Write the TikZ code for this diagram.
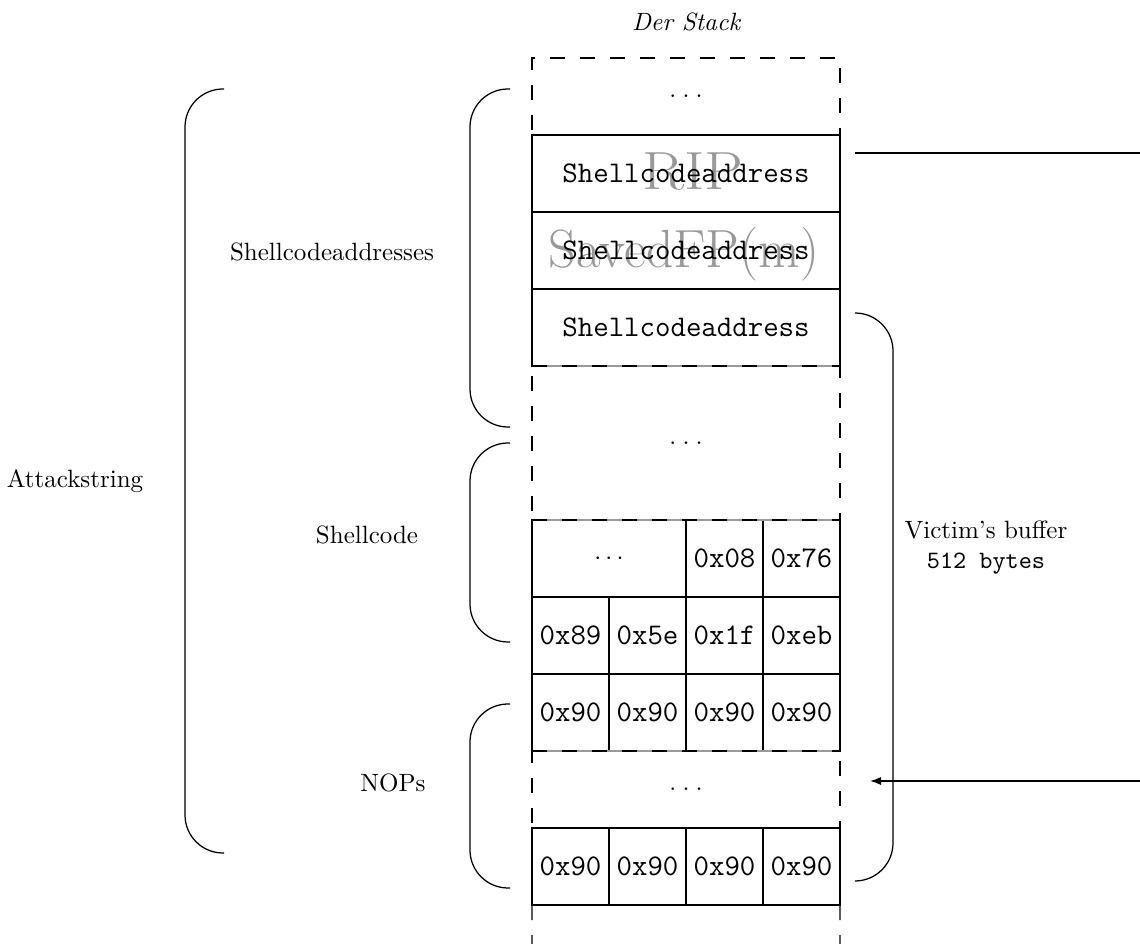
\documentclass[tikz,border=0pt]{standalone}
\usetikzlibrary{arrows.meta}
\newcommand{\spacedots}{.\kern2.5pt.\kern2.5pt.}
\begin{document}
\begin{tikzpicture}[x=0.4pt,y=-0.4pt,
  every node/.style={inner sep=0pt, outer sep=0pt},
  cell/.style={draw, line width=0.5pt, minimum width=30.8pt, minimum height=30.8pt, font=\large\ttfamily},
  widecell/.style={cell, minimum width=61.6pt},
  fullcell/.style={cell, minimum width=123.2pt},
  gapcell/.style={draw, line width=0.5pt, dash pattern=on 6pt off 6pt, minimum width=123.2pt, minimum height=30.8pt},
  gapline/.style={line width=0.5pt, dash pattern=on 6pt off 6pt},
  seam/.style={line width=0.5pt, black!40},
  bracepath/.style={line width=0.5pt, rounded corners=15.2pt},
  ghosttext/.style={font=\fontsize{21.5}{26}\selectfont, text=black!40, anchor=base},
  wire/.style={line width=0.5pt}]
\useasboundingbox (0,0) rectangle (1140,944);

% frame names written faintly behind the slots
\node[ghosttext, xscale=1.15] (ripT) at (693,190) {RIP};
\node[ghosttext] (fpT) at (684,268) {SavedFP(m)};

% unused / unknown parts of the stack
\node[gapcell] (top) at (686,96.5) {\spacedots};
\node[gapcell, minimum height=61.6pt] (mid) at (686,443) {\spacedots};
\node[gapcell] (nop) at (686,789.5) {\spacedots};

% overwritten return addresses
\node[fullcell] (s1) at (686,173.5) {Shellcodeaddress};
\node[fullcell] (s2) at (686,250.5) {Shellcodeaddress};
\node[fullcell] (s3) at (686,327.5) {Shellcodeaddress};

% shellcode bytes
\node[widecell, font=\normalsize] (a01) at (609,558.5) {$\cdots$};
\node[cell] (a2) at (724.5,558.5) {0x08};
\node[cell] (a3) at (801.5,558.5) {0x76};
\node[cell] (b0) at (570.5,635.5) {0x89};
\node[cell] (b1) at (647.5,635.5) {0x5e};
\node[cell] (b2) at (724.5,635.5) {0x1f};
\node[cell] (b3) at (801.5,635.5) {0xeb};

% NOP sled
\node[cell] (c0) at (570.5,712.5) {0x90};
\node[cell] (c1) at (647.5,712.5) {0x90};
\node[cell] (c2) at (724.5,712.5) {0x90};
\node[cell] (c3) at (801.5,712.5) {0x90};
\node[cell] (d0) at (570.5,866.5) {0x90};
\node[cell] (d1) at (647.5,866.5) {0x90};
\node[cell] (d2) at (724.5,866.5) {0x90};
\node[cell] (d3) at (801.5,866.5) {0x90};

% seams between filled slots and open stack regions
\draw[seam] (s3.south west) -- (s3.south east);
\draw[gapline] (s3.south west) -- (s3.south east);
\draw[seam] (a01.north west) -- (a3.north east);
\draw[gapline] (a01.north west) -- (a3.north east);
\draw[seam] (c0.south west) -- (c3.south east);
\draw[gapline] (c0.south west) -- (c3.south east);

% stack continues below
\coordinate (botL) at (532,944);
\coordinate (botR) at (840,944);
\draw[gapline] (d0.south west) -- (botL);
\draw[gapline] (d3.south east) -- (botR);

% labels
\node[font=\itshape] (title) at (686,22) {Der Stack};
\node (attack) at (75,481) {Attackstring};
\node (sca) at (332,252) {Shellcodeaddresses};
\node (sc) at (367,535) {Shellcode};
\node (nops) at (393,783) {NOPs};
\node[align=center] (victim) at (986,548) {Victim's buffer\\\texttt{512 bytes}};

% brackets
\draw[bracepath] (224,89) -- (185,89) -- (185,853) -- (224,853);
\draw[bracepath] (510,89) -- (470,89) -- (470,427) -- (510,427);
\draw[bracepath] (510,443) -- (470,443) -- (470,642) -- (510,642);
\draw[bracepath] (510,704) -- (470,704) -- (470,888) -- (510,888);
\draw[bracepath] (855,313) -- (893,313) -- (893,881) -- (855,881);

% return jump into the sled
\coordinate (retA) at (855,153);
\coordinate (retB) at (1140,153);
\draw[wire] (retA) -- (retB);
\coordinate (jmpA) at (1140,781);
\coordinate (jmpB) at (870,781);
\draw[wire, -{Latex[length=4.4pt,width=3.2pt]}] (jmpA) -- (jmpB);
\end{tikzpicture}
\end{document}
